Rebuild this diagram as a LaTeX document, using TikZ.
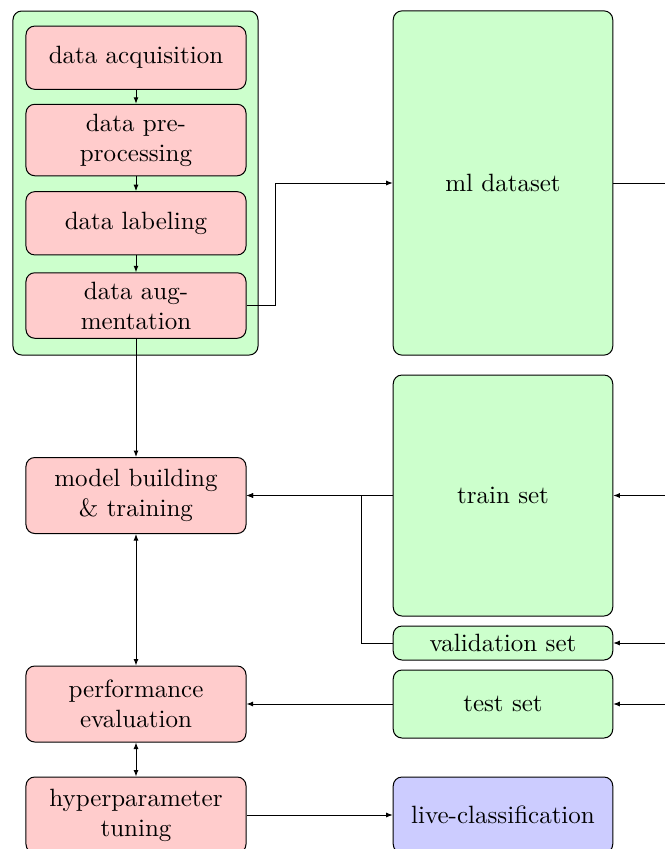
\documentclass[tikz,border=0pt]{standalone}
\usetikzlibrary{arrows.meta}
\definecolor{redfill}{HTML}{FFCCCC}
\definecolor{greenfill}{HTML}{CCFFCC}
\definecolor{bluefill}{HTML}{CCCCFF}
\tikzset{
  box/.style={draw=black, thin, rounded corners=3.5pt, align=center, inner sep=2pt},
  redbox/.style={box, fill=redfill, minimum width=88pt},
  greenbox/.style={box, fill=greenfill, minimum width=87.8pt},
  bluebox/.style={box, fill=bluefill, minimum width=87.8pt},
  groupbox/.style={draw=black, thin, rounded corners=3.5pt, fill=greenfill, minimum width=98pt, minimum height=137.6pt, inner sep=0pt},
  arr/.style={thin, -{Latex[length=2.6pt,width=2pt]}},
  dblarr/.style={thin, {Latex[length=2.6pt,width=2pt]}-{Latex[length=2.6pt,width=2pt]}},
  plain/.style={thin}
}
\begin{document}
\begin{tikzpicture}[x=0.4pt, y=-0.4pt]
\useasboundingbox (0,0) rectangle (665,849);
\clip (0,0) rectangle (665,849);

% group container
\node[groupbox] (grp) at (135.5,183) {};

% left column
\node[redbox, minimum height=25.3pt] (acq) at (136,57.7) {data acquisition};
\node[redbox, minimum height=28.6pt] (pre) at (136,140) {data pre-\\processing};
\node[redbox, minimum height=25.3pt] (lab) at (136,223.3) {data labeling};
\node[redbox, minimum height=26.2pt] (aug) at (136,305.5) {data aug-\\mentation};
\node[redbox, minimum height=30.4pt] (mb) at (136,495.5) {model building\\\& training};
\node[redbox, minimum height=30.4pt] (perf) at (136,704) {performance\\evaluation};
\node[redbox, minimum height=30.4pt] (hyp) at (136,815) {hyperparameter\\tuning};

% right column
\node[greenbox, minimum height=137.7pt] (ml) at (503,183) {ml dataset};
\node[greenbox, minimum height=96.4pt] (train) at (503,495.5) {train set};
\node[greenbox, minimum height=13.6pt] (val) at (503,643) {validation set};
\node[greenbox, minimum height=27.2pt] (test) at (503,704) {test set};
\node[bluebox, minimum height=30.4pt] (live) at (503,815) {live-classification};

% bus beyond the right edge
\coordinate (bus) at (700,183);

% connectors
\draw[arr] (acq) -- (pre);
\draw[arr] (pre) -- (lab);
\draw[arr] (lab) -- (aug);
\draw[arr] (aug.east) -- ++(29,0) |- (ml.west);
\draw[arr] (aug.south) -- (mb.north);
\draw[arr] (train.west) -- (mb.east);
\draw[arr] (val.west) -- ++(-31,0) |- (mb.east);
\draw[arr] (test.west) -- (perf.east);
\draw[dblarr] (mb.south) -- (perf.north);
\draw[dblarr] (perf.south) -- (hyp.north);
\draw[arr] (hyp.east) -- (live.west);
\draw[plain] (ml.east) -- (bus);
\draw[arr] (bus) |- (train.east);
\draw[arr] (bus) |- (val.east);
\draw[arr] (bus) |- (test.east);
\end{tikzpicture}
\end{document}
